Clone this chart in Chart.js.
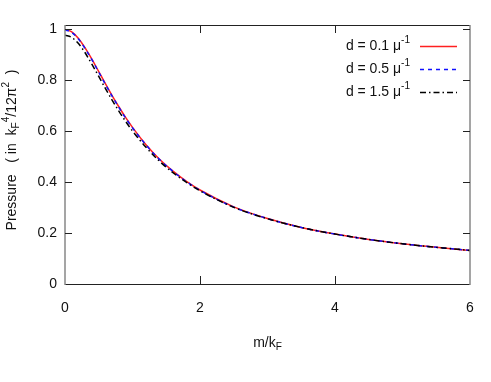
<!DOCTYPE html>
<html>
<head>
<meta charset="utf-8">
<script src="https://cdn.jsdelivr.net/npm/chart.js@4"></script>
<style>
  html, body { margin: 0; padding: 0; background: #fff; }
  #wrap { width: 491px; height: 382px; }
</style>
</head>
<body>
<div id="wrap"><canvas id="chartPressure"></canvas></div>
<script>
// values
var mValues = [0, 0.1, 0.2, 0.3, 0.4, 0.5, 0.6, 0.7, 0.8, 0.9, 1, 1.2, 1.4, 1.6, 1.8, 2, 2.5, 3, 3.5, 4, 4.5, 5, 5.5, 6];
var pressureD01 = [1.000, 0.990, 0.964, 0.926, 0.882, 0.834, 0.786, 0.739, 0.695, 0.653, 0.615, 0.547, 0.490, 0.443, 0.403, 0.369, 0.303, 0.257, 0.222, 0.196, 0.175, 0.158, 0.144, 0.132];
var pressureD05 = [0.998, 0.988, 0.962, 0.924, 0.880, 0.832, 0.784, 0.737, 0.693, 0.651, 0.613, 0.546, 0.489, 0.442, 0.402, 0.368, 0.302, 0.257, 0.222, 0.196, 0.175, 0.158, 0.144, 0.132];
var pressureD15 = [0.977, 0.968, 0.944, 0.907, 0.862, 0.815, 0.767, 0.721, 0.678, 0.638, 0.601, 0.537, 0.482, 0.437, 0.399, 0.366, 0.301, 0.256, 0.222, 0.196, 0.175, 0.158, 0.144, 0.132];
var seriesLabels = ['d = 0.1 μ', 'd = 0.5 μ', 'd = 1.5 μ'];
var xTicks = [0, 2, 4, 6];
var yTicks = [0, 0.2, 0.4, 0.6, 0.8, 1];

var FONT = '"Liberation Sans", Arial, sans-serif';

function toPoints(ys) {
	return mValues.map(function(m, i) { return {x: m, y: ys[i]}; });
}

// draw text made of normal / sup / sub pieces
function richWidth(ctx, parts, size) {
	var w = 0;
	parts.forEach(function(p) {
		ctx.font = (p.s ? size * 0.72 : size) + 'px ' + FONT;
		w += ctx.measureText(p.t).width;
	});
	return w;
}
function drawRich(ctx, parts, x, y, size) {
	ctx.textBaseline = 'middle';
	ctx.textAlign = 'left';
	parts.forEach(function(p) {
		var dy = 0;
		if (p.s === 'sup') dy = -size * 0.4;
		if (p.s === 'sub') dy = size * 0.3;
		ctx.font = (p.s ? size * 0.72 : size) + 'px ' + FONT;
		ctx.fillText(p.t, x, y + dy);
		x += ctx.measureText(p.t).width;
	});
}

var frame = {
	id: 'frame',
	afterDraw: function(chart) {
		var ctx = chart.ctx, a = chart.chartArea;
		var xs = chart.scales.x, ys = chart.scales.y;
		ctx.save();
		// box
		ctx.lineWidth = 1;
		ctx.strokeStyle = '#222';
		ctx.beginPath();
		ctx.moveTo(a.left, a.top + 0.5); ctx.lineTo(a.right, a.top + 0.5);
		ctx.moveTo(a.left, a.bottom + 0.5); ctx.lineTo(a.right, a.bottom + 0.5);
		ctx.stroke();
		ctx.strokeStyle = '#888';
		ctx.lineWidth = 1.5;
		ctx.beginPath();
		ctx.moveTo(a.left, a.top); ctx.lineTo(a.left, a.bottom + 1);
		ctx.moveTo(a.right, a.top); ctx.lineTo(a.right, a.bottom + 1);
		ctx.stroke();
		// inward ticks
		ctx.strokeStyle = '#222';
		ctx.lineWidth = 1;
		ctx.beginPath();
		yTicks.forEach(function(v) {
			if (v === 0) return;
			var py = Math.round(ys.getPixelForValue(v)) + 0.5;
			ctx.moveTo(a.left, py); ctx.lineTo(a.left + 7, py);
			ctx.moveTo(a.right, py); ctx.lineTo(a.right - 7, py);
		});
		xTicks.forEach(function(v) {
			if (v === 0 || v === 6) return;
			var px = Math.round(xs.getPixelForValue(v)) + 0.5;
			ctx.moveTo(px, a.bottom); ctx.lineTo(px, a.bottom - 8);
			ctx.moveTo(px, a.top); ctx.lineTo(px, a.top + 8);
		});
		ctx.stroke();

		ctx.fillStyle = '#111';
		// x title
		var xt = [{t: 'm/k'}, {t: 'F', s: 'sub'}];
		var w = richWidth(ctx, xt, 14);
		drawRich(ctx, xt, (a.left + a.right) / 2 - w / 2, 343, 14);
		// y title
		var yt = [{t: 'Pressure   ( in  k'}, {t: 'F', s: 'sub'}, {t: '4', s: 'sup'}, {t: '/12π'}, {t: '2', s: 'sup'}, {t: '  )'}];
		w = richWidth(ctx, yt, 14);
		ctx.translate(12, 150);
		ctx.rotate(-Math.PI / 2);
		drawRich(ctx, yt, -w / 2, 0, 14);
		ctx.restore();

		// legend
		ctx.save();
		chart.data.datasets.forEach(function(ds, i) {
			var ly = 46 + i * 23;
			var parts = [{t: seriesLabels[i]}, {t: '-1', s: 'sup'}];
			var lw = richWidth(ctx, parts, 14);
			ctx.fillStyle = '#111';
			drawRich(ctx, parts, 410 - lw, ly, 14);
			ctx.strokeStyle = ds.borderColor;
			ctx.lineWidth = ds.borderWidth;
			ctx.setLineDash(ds.borderDash || []);
			ctx.beginPath();
			ctx.moveTo(420, ly + 0.5); ctx.lineTo(457, ly + 0.5);
			ctx.stroke();
		});
		ctx.restore();
	}
};

var config = {
	type: 'scatter',
	data: {
		datasets: [
		{
			label: seriesLabels[0],
			data: toPoints(pressureD01),
			borderColor: '#ff2020',
			borderWidth: 1.5,
			order: 3
		},
		{
			label: seriesLabels[1],
			data: toPoints(pressureD05),
			borderColor: '#1010ff',
			borderWidth: 1.5,
			borderDash: [4, 4],
			order: 2
		},
		{
			label: seriesLabels[2],
			data: toPoints(pressureD15),
			borderColor: '#000',
			borderWidth: 1.5,
			borderDash: [6, 3, 1.5, 3],
			order: 1
		}
		]
	},
	options: {
		responsive: true,
		maintainAspectRatio: false,
		animation: false,
		showLine: true,
		elements: {
			point: {radius: 0, hoverRadius: 0},
			line: {cubicInterpolationMode: 'monotone', fill: false}
		},
		layout: {padding: {left: 0, right: 21, top: 25, bottom: 0}},
		plugins: {legend: {display: false}, tooltip: {enabled: false}},
		scales: {
			x: {
				type: 'linear', min: 0, max: 6,
				grid: {display: false, drawTicks: false},
				border: {display: false},
				afterBuildTicks: function(s) { s.ticks = xTicks.map(function(v) { return {value: v}; }); },
				afterFit: function(s) { s.height = 98; },
				ticks: {padding: 16, color: '#111', font: {family: FONT, size: 14}, maxRotation: 0,
					callback: function(v) { return String(v); }}
			},
			y: {
				type: 'linear', min: 0, max: 1.017,
				grid: {display: false, drawTicks: false},
				border: {display: false},
				afterBuildTicks: function(s) { s.ticks = yTicks.map(function(v) { return {value: v}; }); },
				afterFit: function(s) { s.width = 65; },
				ticks: {padding: 8, color: '#111', font: {family: FONT, size: 14},
					callback: function(v) { return String(v); }}
			}
		}
	},
	plugins: [frame]
};

var ctxPressure = document.getElementById('chartPressure').getContext('2d');
window.pressureChart = new Chart(ctxPressure, config);
</script>
</body>
</html>
